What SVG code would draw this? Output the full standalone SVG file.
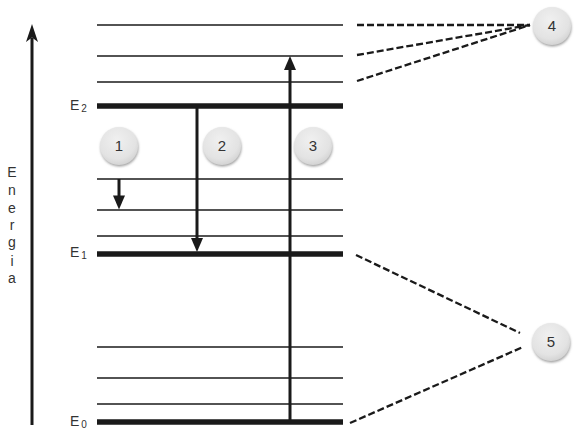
<svg xmlns="http://www.w3.org/2000/svg" width="575" height="431" viewBox="0 0 575 431">
<defs>
<radialGradient id="bub" cx="0.45" cy="0.35" r="0.7">
<stop offset="0" stop-color="#f0f0f0"/>
<stop offset="0.7" stop-color="#e3e3e3"/>
<stop offset="1" stop-color="#cfcfcf"/>
</radialGradient>
<filter id="sh" x="-30%" y="-30%" width="160%" height="160%">
<feDropShadow dx="0.5" dy="1.5" stdDeviation="1" flood-color="#777" flood-opacity="0.7"/>
</filter>
</defs>
<style>
.thin{stroke:#1a1a1a;stroke-width:1.3;fill:none}
.thick{stroke:#1a1a1a;stroke-width:5.5;fill:none}
.arr{stroke:#1a1a1a;stroke-width:3;fill:none}
.head{fill:#1a1a1a;stroke:none}
.dash{stroke:#1a1a1a;stroke-width:2.3;stroke-dasharray:7,3;fill:none}
.lbl{font-family:"Liberation Sans",Arial,sans-serif;fill:#333}
.num{font-family:"Liberation Sans",Arial,sans-serif;font-size:15px;fill:#333;text-anchor:middle}
.bubble{fill:url(#bub);filter:url(#sh)}
</style>
<rect width="575" height="431" fill="#fff"/>
<g id="levels">
<line class="thin" x1="97" y1="25" x2="343" y2="25"/>
<line class="thin" x1="97" y1="56" x2="343" y2="56"/>
<line class="thin" x1="97" y1="82" x2="343" y2="82"/>
<line class="thick" x1="97" y1="106" x2="343" y2="106"/>
<line class="thin" x1="97" y1="179" x2="343" y2="179"/>
<line class="thin" x1="97" y1="210" x2="343" y2="210"/>
<line class="thin" x1="97" y1="236" x2="343" y2="236"/>
<line class="thick" x1="97" y1="254" x2="343" y2="254"/>
<line class="thin" x1="97" y1="347" x2="343" y2="347"/>
<line class="thin" x1="97" y1="378" x2="343" y2="378"/>
<line class="thin" x1="97" y1="404" x2="343" y2="404"/>
<line class="thick" x1="97" y1="422" x2="343" y2="422"/>
</g>
<g id="labels">
<text class="lbl" x="70" y="110" font-size="14">E<tspan font-size="10" dy="2" dx="2">2</tspan></text>
<text class="lbl" x="70" y="257" font-size="14">E<tspan font-size="10" dy="2" dx="2">1</tspan></text>
<text class="lbl" x="70" y="426" font-size="14">E<tspan font-size="10" dy="2" dx="2">0</tspan></text>
</g>
<g id="energy-axis">
<line class="arr" x1="32" y1="38" x2="32" y2="425"/>
<path class="head" d="M32,24 L38,42 L32,37.5 L26,42 Z"/>
<g class="lbl" font-size="14" text-anchor="middle">
<text x="12" y="177">E</text>
<text x="12" y="195">n</text>
<text x="12" y="212.5">e</text>
<text x="12" y="230">r</text>
<text x="12" y="247">g</text>
<text x="12" y="265.5">i</text>
<text x="12" y="283">a</text>
</g>
</g>
<g id="connectors">
<line class="arr" x1="119" y1="179" x2="119" y2="198"/>
<path class="head" d="M119,209.5 L113,195.5 L125,195.5 Z"/>
<line class="arr" x1="197" y1="106" x2="197" y2="242"/>
<path class="head" d="M197,252 L191,238 L203,238 Z"/>
<line class="arr" x1="290" y1="422" x2="290" y2="66"/>
<path class="head" d="M290,56 L296,70 L284,70 Z"/>
<line class="dash" x1="357" y1="25" x2="530" y2="25"/>
<line class="dash" x1="357" y1="55" x2="530" y2="25"/>
<line class="dash" x1="357" y1="81" x2="530" y2="25"/>
<line class="dash" x1="356" y1="255" x2="520" y2="333"/>
<line class="dash" x1="350" y1="423" x2="523" y2="347"/>
</g>
<g id="node-1"><circle class="bubble" cx="119" cy="146" r="19"/><text class="num" x="119" y="151">1</text></g>
<g id="node-2"><circle class="bubble" cx="222" cy="146" r="19"/><text class="num" x="222" y="151">2</text></g>
<g id="node-3"><circle class="bubble" cx="313" cy="146" r="19"/><text class="num" x="313" y="151">3</text></g>
<g id="node-4"><circle class="bubble" cx="552" cy="26" r="19"/><text class="num" x="552" y="31">4</text></g>
<g id="node-5"><circle class="bubble" cx="551" cy="342" r="19"/><text class="num" x="551" y="347">5</text></g>
</svg>
